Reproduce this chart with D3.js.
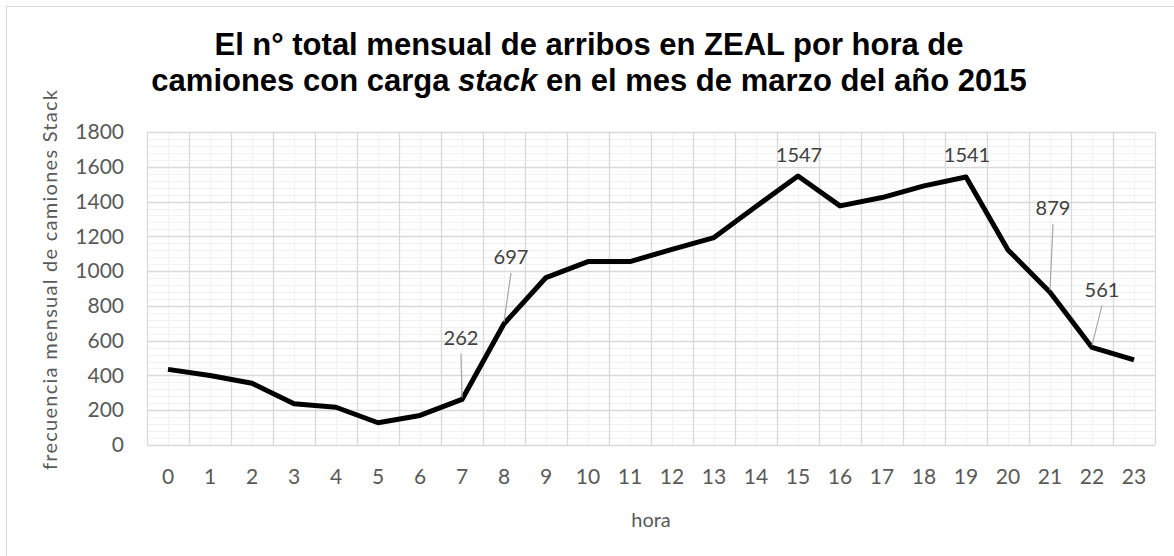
<!DOCTYPE html>
<html>
<head>
<meta charset="utf-8">
<script src="https://cdn.jsdelivr.net/npm/d3@7"></script>
<style>
  body { margin: 0; background: #fff; }
  svg { display: block; }
</style>
</head>
<body>
<div id="chart"></div>
<script>
  var width = 1174;
  var height = 556;
  var margin = { "top": 132, "bottom": 111, "right": 19, "left": 147 };

  // data
  var hours = d3.range(0, 24);
  var arrivals = [435, 400, 355, 237, 217, 128, 170, 262, 697, 963, 1055, 1055,
                  1125, 1193, 1372, 1547, 1375, 1423, 1490, 1541, 1122, 879, 561, 490];
  var labelledHours = [7, 8, 15, 19, 21, 22];
  var yTicks = [0, 200, 400, 600, 800, 1000, 1200, 1400, 1600, 1800];

  // where each data label sits relative to its point (px)
  var labelOffset = {
    7: [-1, -62], 8: [7, -67], 15: [1, -21], 19: [1, -22], 21: [3, -84], 22: [10, -58]
  };

  var svg = d3.select("#chart")
              .append("svg")
              .attr("width", width)
              .attr("height", height);

  // chart border
  svg.append("rect")
     .attr("x", 6.5).attr("y", 6.5)
     .attr("width", width).attr("height", height)
     .attr("fill", "#fff")
     .attr("stroke", "#d9d9d9");

  var xScale = d3.scaleBand()
    .domain(hours)
    .range([margin.left, width - margin.right]);

  var yScale = d3.scaleLinear()
    .domain([0, 1800])
    .range([height - margin.bottom, margin.top]);

  var bw = xScale.bandwidth();
  var cx = function(h) { return xScale(h) + bw / 2; };

  var grid = svg.append("g");
  var x0 = margin.left, x1 = width - margin.right;
  var yb = yScale(0), yt = yScale(1800);

  // minor gridlines
  grid.selectAll(".hminor")
      .data(d3.range(0, 1801, 40).filter(function(v){ return v % 200 != 0 }))
      .enter().append("line")
      .attr("x1", x0).attr("x2", x1)
      .attr("y1", function(d){ return Math.round(yScale(d)) + 0.5 })
      .attr("y2", function(d){ return Math.round(yScale(d)) + 0.5 })
      .attr("stroke", "#f2f2f2").attr("stroke-width", 1);

  grid.selectAll(".vminor")
      .data(hours)
      .enter().append("line")
      .attr("x1", function(d){ return Math.round(cx(d)) + 0.5 })
      .attr("x2", function(d){ return Math.round(cx(d)) + 0.5 })
      .attr("y1", yt).attr("y2", yb)
      .attr("stroke", "#f2f2f2").attr("stroke-width", 1);

  // major gridlines
  grid.selectAll(".hmajor")
      .data(yTicks)
      .enter().append("line")
      .attr("x1", x0).attr("x2", x1)
      .attr("y1", function(d){ return Math.round(yScale(d)) + 0.5 })
      .attr("y2", function(d){ return Math.round(yScale(d)) + 0.5 })
      .attr("stroke", "#d9d9d9").attr("stroke-width", 1.3);

  grid.selectAll(".vmajor")
      .data(hours.concat([24]))
      .enter().append("line")
      .attr("x1", function(d){ return Math.round(d < 24 ? xScale(d) : x1) + 0.5 })
      .attr("x2", function(d){ return Math.round(d < 24 ? xScale(d) : x1) + 0.5 })
      .attr("y1", yt).attr("y2", yb)
      .attr("stroke", "#d9d9d9").attr("stroke-width", 1.3);

  // axes (labels only)
  var axisx = d3.axisBottom(xScale).tickSize(0).tickPadding(24);
  var axisy = d3.axisLeft(yScale).tickValues(yTicks)
                .tickFormat(d3.format("d")).tickSize(0).tickPadding(23);

  var gx = svg.append("g")
    .attr("transform", "translate(0," + yb + ")")
    .call(axisx);
  var gy = svg.append("g")
    .attr("transform", "translate(" + margin.left + ",0)")
    .call(axisy);

  [gx, gy].forEach(function(g) {
    g.select(".domain").remove();
    g.selectAll("text")
     .attr("fill", "#595959")
     .attr("font-family", "Lato, 'Noto Sans', sans-serif")
     .attr("font-size", "21px");
  });

  // axis titles
  svg.append("text")
     .attr("x", (x0 + x1) / 2)
     .attr("y", 527)
     .attr("text-anchor", "middle")
     .attr("fill", "#595959")
     .attr("font-family", "Lato, 'Noto Sans', sans-serif")
     .attr("font-size", "20px")
     .text("hora");

  svg.append("text")
     .attr("transform", "translate(57,280) rotate(-90)")
     .attr("text-anchor", "middle")
     .attr("fill", "#595959")
     .attr("font-family", "Lato, 'Noto Sans', sans-serif")
     .attr("font-size", "20px")
     .attr("textLength", 380)
     .attr("lengthAdjust", "spacing")
     .text("frecuencia mensual de camiones Stack");

  // title
  var title = svg.append("text")
     .attr("text-anchor", "middle")
     .attr("font-family", "'Liberation Sans', Arial, sans-serif")
     .attr("font-weight", "bold")
     .attr("font-size", "31px")
     .attr("fill", "#000");
  title.append("tspan").attr("x", 589).attr("y", 55)
     .text("El n° total mensual de arribos en ZEAL por hora de");
  var t2 = title.append("tspan").attr("x", 589).attr("y", 91);
  t2.append("tspan").text("camiones con carga ");
  t2.append("tspan").attr("font-style", "italic").text("stack");
  t2.append("tspan").text(" en el mes de marzo del año 2015");

  // line
  var line = d3.line()
    .x(function(d, i) { return cx(hours[i]) })
    .y(function(d) { return yScale(d) });

  svg.append("path")
     .datum(arrivals)
     .attr("d", line)
     .attr("fill", "none")
     .attr("stroke", "#000")
     .attr("stroke-width", 5)
     .attr("stroke-linejoin", "round");

  // data labels with leader lines
  var labels = svg.append("g");
  labelledHours.forEach(function(h) {
    var px = cx(h), py = yScale(arrivals[h]);
    var off = labelOffset[h];
    var lx = px + off[0], ly = py + off[1];
    if (-off[1] > 40) {
      labels.append("line")
        .attr("x1", lx).attr("y1", ly + 16)
        .attr("x2", px).attr("y2", py - 2)
        .attr("stroke", "#a6a6a6").attr("stroke-width", 1.2);
    }
    labels.append("text")
      .attr("x", lx).attr("y", ly)
      .attr("dy", "0.36em")
      .attr("text-anchor", "middle")
      .attr("fill", "#404040")
      .attr("font-family", "Lato, 'Noto Sans', sans-serif")
      .attr("font-size", "20px")
      .text(arrivals[h]);
  });
</script>
</body>
</html>
